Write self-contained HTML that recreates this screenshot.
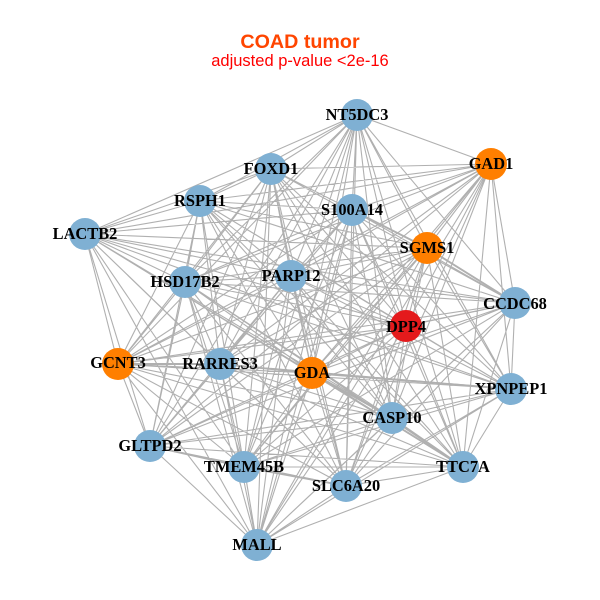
<!DOCTYPE html>
<html><head><meta charset="utf-8"><style>html,body{margin:0;padding:0;background:#fff}svg{display:block}
.l{font:bold 16.4px "Liberation Serif",serif;text-anchor:middle;fill:#000}</style></head><body>
<svg width="600" height="600" viewBox="0 0 600 600" xmlns="http://www.w3.org/2000/svg">
<rect width="600" height="600" fill="#fff"/>
<text x="300" y="48" text-anchor="middle" style="font:bold 19.7px 'Liberation Sans',sans-serif" fill="#ff4500">COAD tumor</text>
<text x="300" y="66" text-anchor="middle" style="font:16.5px 'Liberation Sans',sans-serif" fill="#ff0000">adjusted p-value &lt;2e-16</text>
<path fill="none" stroke="#b0b0b0" stroke-width="1.1" d="
M357 115L491 164M357 115L271 169M357 115L200 201M357 115L352 210M357 115L85 234M357 115L427 248M357 115L185 282M357 115L291 276M357 115L515 303M357 115L406 326M357 115L118 364M357 115L220 364M357 115L312 373M357 115L511 389M357 115L392 418M357 115L150 446M357 115L244 467M357 115L463 467M357 115L346 486M357 115L257 545
M491 164L271 169M491 164L200 201M491 164L352 210M491 164L85 234M491 164L427 248M491 164L185 282M491 164L291 276M491 164L515 303M491 164L406 326M491 164L118 364M491 164L220 364M491 164L312 373M491 164L511 389M491 164L392 418M491 164L150 446M491 164L244 467M491 164L463 467M491 164L346 486M491 164L257 545
M271 169L200 201M271 169L352 210M271 169L85 234M271 169L427 248M271 169L185 282M271 169L291 276M271 169L515 303M271 169L406 326M271 169L118 364M271 169L220 364M271 169L312 373M271 169L511 389M271 169L392 418M271 169L150 446M271 169L244 467M271 169L463 467M271 169L346 486M271 169L257 545
M200 201L352 210M200 201L85 234M200 201L427 248M200 201L185 282M200 201L291 276M200 201L515 303M200 201L406 326M200 201L118 364M200 201L220 364M200 201L312 373M200 201L511 389M200 201L392 418M200 201L150 446M200 201L244 467M200 201L463 467M200 201L346 486M200 201L257 545
M352 210L85 234M352 210L427 248M352 210L185 282M352 210L291 276M352 210L515 303M352 210L406 326M352 210L118 364M352 210L220 364M352 210L312 373M352 210L511 389M352 210L392 418M352 210L150 446M352 210L244 467M352 210L463 467M352 210L346 486M352 210L257 545
M85 234L427 248M85 234L185 282M85 234L291 276M85 234L515 303M85 234L406 326M85 234L118 364M85 234L220 364M85 234L312 373M85 234L511 389M85 234L392 418M85 234L150 446M85 234L244 467M85 234L463 467M85 234L346 486M85 234L257 545
M427 248L185 282M427 248L291 276M427 248L515 303M427 248L406 326M427 248L118 364M427 248L220 364M427 248L312 373M427 248L511 389M427 248L392 418M427 248L150 446M427 248L244 467M427 248L463 467M427 248L346 486M427 248L257 545
M185 282L291 276M185 282L515 303M185 282L406 326M185 282L118 364M185 282L220 364M185 282L312 373M185 282L511 389M185 282L392 418M185 282L150 446M185 282L244 467M185 282L463 467M185 282L346 486M185 282L257 545
M291 276L515 303M291 276L406 326M291 276L118 364M291 276L220 364M291 276L312 373M291 276L511 389M291 276L392 418M291 276L150 446M291 276L244 467M291 276L463 467M291 276L346 486M291 276L257 545
M515 303L406 326M515 303L118 364M515 303L220 364M515 303L312 373M515 303L511 389M515 303L392 418M515 303L150 446M515 303L244 467M515 303L463 467M515 303L346 486M515 303L257 545
M406 326L118 364M406 326L220 364M406 326L312 373M406 326L511 389M406 326L392 418M406 326L150 446M406 326L244 467M406 326L463 467M406 326L346 486M406 326L257 545
M118 364L220 364M118 364L312 373M118 364L511 389M118 364L392 418M118 364L150 446M118 364L244 467M118 364L463 467M118 364L346 486M118 364L257 545
M220 364L312 373M220 364L511 389M220 364L392 418M220 364L150 446M220 364L244 467M220 364L463 467M220 364L346 486M220 364L257 545
M312 373L511 389M312 373L392 418M312 373L150 446M312 373L244 467M312 373L463 467M312 373L346 486M312 373L257 545
M511 389L392 418M511 389L150 446M511 389L244 467M511 389L463 467M511 389L346 486M511 389L257 545
M392 418L150 446M392 418L244 467M392 418L463 467M392 418L346 486M392 418L257 545
M150 446L244 467M150 446L463 467M150 446L346 486M150 446L257 545
M244 467L463 467M244 467L346 486M244 467L257 545
M463 467L346 486M463 467L257 545
M346 486L257 545"/>
<path fill="none" stroke="#b0b0b0" stroke-width="1.9" d="M312 373L511 389M220 364L312 373M118 364L220 364M312 373L392 418M392 418L463 467M150 446L244 467M244 467L346 486M352 210L427 248M427 248L515 303M312 373L463 467"/>
<g fill="#7fb0d3">
<circle cx="357" cy="115" r="16"/><circle cx="271" cy="169" r="16"/><circle cx="200" cy="201" r="16"/><circle cx="352" cy="210" r="16"/><circle cx="85" cy="234" r="16"/><circle cx="185" cy="282" r="16"/><circle cx="291" cy="276" r="16"/><circle cx="515" cy="303" r="16"/><circle cx="220" cy="364" r="16"/><circle cx="511" cy="389" r="16"/><circle cx="392" cy="418" r="16"/><circle cx="150" cy="446" r="16"/><circle cx="244" cy="467" r="16"/><circle cx="463" cy="467" r="16"/><circle cx="346" cy="486" r="16"/><circle cx="257" cy="545" r="16"/>
</g>
<g fill="#ff7f00">
<circle cx="491" cy="164" r="16"/><circle cx="427" cy="248" r="16"/><circle cx="118" cy="364" r="16"/><circle cx="312" cy="373" r="16"/>
</g>
<circle cx="406" cy="326" r="16" fill="#e41a1c"/>
<g>
<text class="l" x="357" y="120">NT5DC3</text>
<text class="l" x="491" y="169">GAD1</text>
<text class="l" x="271" y="174">FOXD1</text>
<text class="l" x="200" y="206">RSPH1</text>
<text class="l" x="352" y="215">S100A14</text>
<text class="l" x="85" y="239">LACTB2</text>
<text class="l" x="427" y="253">SGMS1</text>
<text class="l" x="185" y="287">HSD17B2</text>
<text class="l" x="291" y="281">PARP12</text>
<text class="l" x="515" y="309">CCDC68</text>
<text class="l" x="406" y="332">DPP4</text>
<text class="l" x="118" y="368">GCNT3</text>
<text class="l" x="220" y="369">RARRES3</text>
<text class="l" x="312" y="378">GDA</text>
<text class="l" x="511" y="394">XPNPEP1</text>
<text class="l" x="392" y="423">CASP10</text>
<text class="l" x="150" y="451">GLTPD2</text>
<text class="l" x="244" y="472">TMEM45B</text>
<text class="l" x="463" y="472">TTC7A</text>
<text class="l" x="346" y="491">SLC6A20</text>
<text class="l" x="257" y="550">MALL</text>
</g>
</svg>
</body></html>
